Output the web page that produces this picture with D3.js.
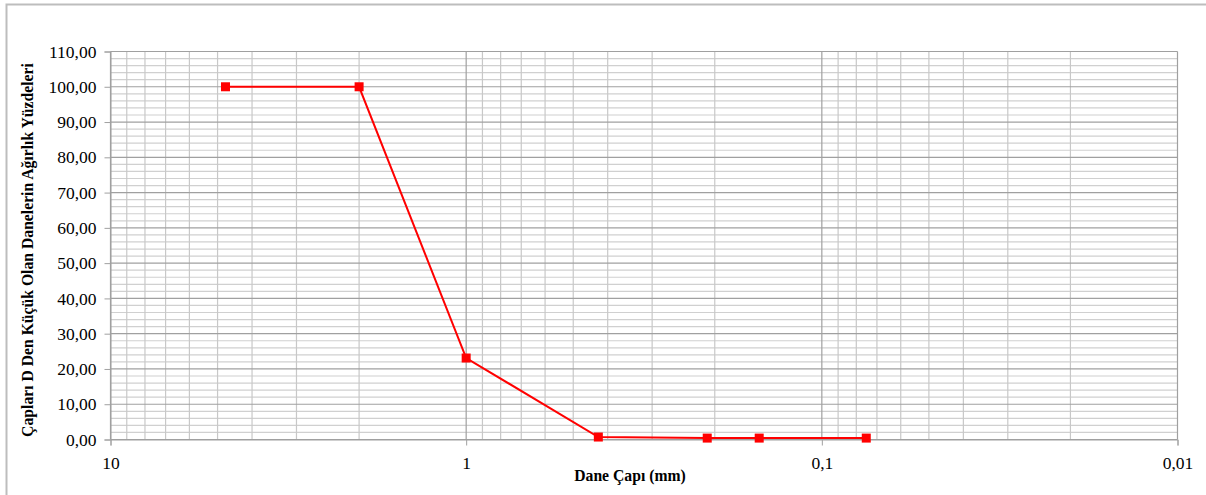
<!DOCTYPE html>
<html>
<head>
<meta charset="utf-8">
<script src="https://cdn.jsdelivr.net/npm/d3@7"></script>
<style>
  body { margin: 0; background: #fff; }
  text { font-family: "Liberation Serif", "Times New Roman", serif; }
</style>
</head>
<body>
<svg id="chart" width="1206" height="495"></svg>
<script>
// grain size (mm) and percent passing
const sieveSizes = [4.75, 2.0, 1.0, 0.425, 0.21, 0.15, 0.075];
const percentPassing = [100, 100, 23.1, 0.7, 0.4, 0.4, 0.4];
const xTickLabels = ["10", "1", "0,1", "0,01"];
const xTickValues = [10, 1, 0.1, 0.01];
const yTickValues = [0, 10, 20, 30, 40, 50, 60, 70, 80, 90, 100, 110];

const svg = d3.select("#chart");
const margin = { left: 110.5, right: 1177.5, top: 51.5, bottom: 439.5 };

// outer chart border (only top and left show in the frame)
svg.append("rect")
    .attr("x", 6.5).attr("y", 4.5)
    .attr("width", 1260).attr("height", 560)
    .attr("fill", "none")
    .attr("stroke", "#bdbdbd")
    .attr("stroke-width", 2);

const x = d3.scaleLog().domain([10, 0.01]).range([margin.left, margin.right]);
const y = d3.scaleLinear().domain([0, 110]).range([margin.bottom, margin.top]);

const grid = svg.append("g");

// minor horizontal lines every 2
d3.range(0, 111, 2).filter(v => v % 10 !== 0).forEach(v => {
    grid.append("line")
        .attr("x1", margin.left).attr("x2", margin.right)
        .attr("y1", y(v)).attr("y2", y(v))
        .attr("stroke", "#d0d0d0").attr("stroke-width", 1.2);
});

// minor vertical lines 2..9 in each decade
[1, 0.1, 0.01].forEach(dec => {
    d3.range(2, 10).forEach(k => {
        const v = dec * k;
        grid.append("line")
            .attr("x1", x(v)).attr("x2", x(v))
            .attr("y1", margin.top).attr("y2", margin.bottom)
            .attr("stroke", "#c8c8c8").attr("stroke-width", 1.2);
    });
});

// major horizontal lines
yTickValues.forEach(v => {
    grid.append("line")
        .attr("x1", margin.left).attr("x2", margin.right)
        .attr("y1", y(v)).attr("y2", y(v))
        .attr("stroke", "#a0a0a0").attr("stroke-width", 1.2);
});

// major vertical lines
xTickValues.forEach(v => {
    grid.append("line")
        .attr("x1", x(v)).attr("x2", x(v))
        .attr("y1", margin.top).attr("y2", margin.bottom)
        .attr("stroke", "#a0a0a0").attr("stroke-width", 1.2);
});

// y axis
const yAxis = d3.axisLeft(y)
    .tickValues(yTickValues)
    .tickSize(6)
    .tickPadding(8)
    .tickFormat(d => d3.format(".2f")(d).replace(".", ","));
const gy = svg.append("g")
    .attr("transform", `translate(${margin.left},0)`)
    .call(yAxis);
gy.select(".domain").attr("stroke", "#a0a0a0");
gy.selectAll(".tick line").attr("stroke", "#a0a0a0");
gy.selectAll("text")
    .style("font-size", "17.5px")
    .style("font-family", "'Liberation Serif', serif")
    .attr("fill", "#000");

// x axis
const xAxis = d3.axisBottom(x)
    .tickValues(xTickValues)
    .tickSize(6)
    .tickPadding(11)
    .tickFormat((d, i) => xTickLabels[i]);
const gx = svg.append("g")
    .attr("transform", `translate(0,${margin.bottom})`)
    .call(xAxis);
gx.select(".domain").attr("stroke", "#a0a0a0");
gx.selectAll(".tick line").attr("stroke", "#a0a0a0");
gx.selectAll("text")
    .style("font-size", "17.5px")
    .style("font-family", "'Liberation Serif', serif")
    .attr("fill", "#000");

// data line
const pts = sieveSizes.map((d, i) => ({ d, p: percentPassing[i] }));
svg.append("path")
    .datum(pts)
    .attr("fill", "none")
    .attr("stroke", "#ff0000")
    .attr("stroke-width", 2)
    .attr("d", d3.line().x(d => x(d.d)).y(d => y(d.p)));

svg.selectAll("rect.marker")
    .data(pts)
    .enter()
    .append("rect")
    .attr("class", "marker")
    .attr("x", d => x(d.d) - 4.5)
    .attr("y", d => y(d.p) - 4.5)
    .attr("width", 9)
    .attr("height", 9)
    .attr("fill", "#ff0000");

// axis titles
svg.append("text")
    .attr("x", 630)
    .attr("y", 481)
    .attr("text-anchor", "middle")
    .style("font-size", "15.7px")
    .style("font-weight", "bold")
    .text("Dane Çapı (mm)");

svg.append("text")
    .attr("transform", "translate(33,250) rotate(-90)")
    .attr("text-anchor", "middle")
    .style("font-size", "15.7px")
    .style("font-weight", "bold")
    .text("Çapları D Den Küçük Olan Danelerin Ağırlık Yüzdeleri");
</script>
</body>
</html>
